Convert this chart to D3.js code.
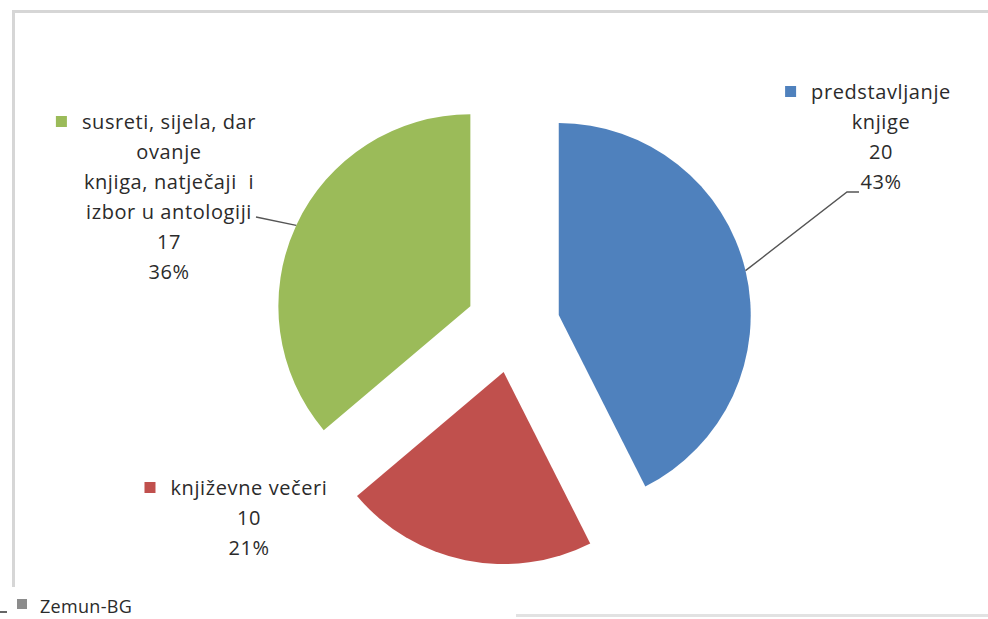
<!DOCTYPE html>
<html>
<head>
<meta charset="utf-8">
<script src="https://cdn.jsdelivr.net/npm/d3@7"></script>
<style>
  body { margin: 0; background: #fff; }
  svg { display: block; }
  text { font-family: "Open Sans", Lato, sans-serif; fill: #2b2b2b; white-space: pre; }
</style>
</head>
<body>
<div id="chart"></div>
<script>
// categories and values
const categories = ["predstavljanje knjige", "književne večeri", "susreti, sijela, darovanje knjiga, natječaji i izbor u antologiji"];
const values = [20, 10, 17];
const labelLines = [
  ["predstavljanje", "knjige"],
  ["književne večeri"],
  ["susreti, sijela, dar", "ovanje", "knjiga, natječaji  i", "izbor u antologiji"]
];
const colors = ["#4F81BD", "#C0504D", "#9BBB59"];
const seriesName = "Zemun-BG";

const W = 988, H = 619;
const cx = 513, cy = 326, R = 192, explode = 47;
const fontSize = 20, lineH = 30;
// label anchors (centre x, first baseline) and leader bends
const labelAt = [{x: 881, y: 99}, {x: 249, y: 495}, {x: 169, y: 129}];
const leaders = [[[847, 192], [859, 192]], null, [[256, 217]]];

const svg = d3.select("#chart").append("svg")
  .attr("width", W)
  .attr("height", H);

// chart area frame (screenshot edges)
svg.append("line").attr("x1", 13).attr("x2", W).attr("y1", 11.5).attr("y2", 11.5)
  .attr("stroke", "#d6d6d6").attr("stroke-width", 3);
svg.append("line").attr("x1", 13.5).attr("x2", 13.5).attr("y1", 10).attr("y2", 587)
  .attr("stroke", "#d6d6d6").attr("stroke-width", 3);
svg.append("line").attr("x1", 516).attr("x2", W).attr("y1", 615.5).attr("y2", 615.5)
  .attr("stroke", "#e2e2e2").attr("stroke-width", 3);

const total = d3.sum(values);
const pie = d3.pie().sort(null).startAngle(0).endAngle(2 * Math.PI);
const arcs = pie(values);
const arc = d3.arc().innerRadius(0).outerRadius(R);

const midA = d => (d.startAngle + d.endAngle) / 2;
const offset = (d, k) => [Math.sin(midA(d)) * k, -Math.cos(midA(d)) * k];

const g = svg.append("g").attr("transform", `translate(${cx},${cy})`);
g.selectAll("path")
  .data(arcs)
  .enter()
  .append("path")
  .attr("d", arc)
  .attr("fill", (d, i) => colors[i])
  .attr("transform", d => {
    const [dx, dy] = offset(d, explode);
    return `translate(${dx},${dy})`;
  });

// leader lines
arcs.forEach((d, i) => {
  if (!leaders[i]) return;
  const [ex, ey] = offset(d, explode);
  const [rx, ry] = offset(d, R);
  const pts = [[cx + ex + rx, cy + ey + ry]].concat(leaders[i]);
  svg.append("path")
    .attr("d", d3.line()(pts))
    .attr("fill", "none")
    .attr("stroke", "#555")
    .attr("stroke-width", 1.4);
});

// data labels: name lines, value, percent
arcs.forEach((d, i) => {
  const lines = labelLines[i].concat([String(values[i]), Math.round(values[i] / total * 100) + "%"]);
  const lg = svg.append("g");
  const texts = lg.selectAll("text")
    .data(lines)
    .enter()
    .append("text")
    .attr("x", labelAt[i].x)
    .attr("y", (t, j) => labelAt[i].y + j * lineH)
    .attr("text-anchor", "middle")
    .attr("font-size", fontSize)
    .attr("letter-spacing", 0.6)
    .text(t => t);
  const w = texts.node().getComputedTextLength();
  lg.append("rect")
    .attr("x", labelAt[i].x - w / 2 - 26)
    .attr("y", labelAt[i].y - 13)
    .attr("width", 11)
    .attr("height", 11)
    .attr("fill", colors[i]);
});

// series legend at the bottom
svg.append("line").attr("x1", 0).attr("x2", 7).attr("y1", 612).attr("y2", 612)
  .attr("stroke", "#333").attr("stroke-width", 1.5);
svg.append("rect").attr("x", 17).attr("y", 599).attr("width", 10).attr("height", 10)
  .attr("fill", "#8c8c8c");
svg.append("text").attr("x", 40).attr("y", 613).attr("font-size", 18)
  .attr("letter-spacing", 0.3)
  .text(seriesName);
</script>
</body>
</html>
